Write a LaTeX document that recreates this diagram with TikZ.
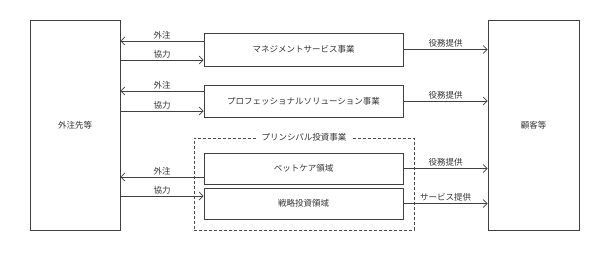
\documentclass[tikz,border=0pt]{standalone}
\usepackage{fontspec}
\newfontfamily\jpfont{Noto Sans CJK JP}
\usepackage{tikz}
\usetikzlibrary{arrows.meta,positioning,calc}

\begin{document}
\begin{tikzpicture}[x=1pt, y=-1pt,
  box/.style={rectangle, draw=black!75, line width=0.7pt, inner sep=0pt,
    align=center, font=\jpfont\fontsize{8.5}{10}\selectfont, text=black!80},
  unit/.style={box, minimum width=199pt},
  group/.style={rectangle, draw=black!70, densely dashed, line width=0.5pt,
    minimum width=220pt, minimum height=92pt},
  arr/.style={-{Straight Barb[length=4pt,width=8pt]}, line width=0.7pt, black!75},
  lbl/.style={font=\jpfont\fontsize{8.5}{10}\selectfont, text=black!80, inner sep=1.5pt}
]
\useasboundingbox (0,0) rectangle (602,252);

% Outer parties
\node[box, minimum width=90pt, minimum height=210pt] (gaichu) at (75,125) {外注先等};
\node[box, minimum width=91pt, minimum height=210pt] (kokyaku) at (533.5,125) {顧客等};

% Business units
\node[unit, minimum height=33pt] (mgmt) at (303.5,49.5) {マネジメントサービス事業};
\node[unit, minimum height=32pt] (prof) at (303.5,101) {プロフェッショナルソリューション事業};

% Principal investment
\node[group] (pi) at (304,184) {};
\node[lbl, fill=white, inner xsep=6pt] (pititle) at (pi.north) {プリンシパル投資事業};
\node[unit, minimum height=31pt] (pet) at (303.5,168.5) {ペットケア領域};
\node[unit, minimum height=31pt] (strat) at (303.5,203.5) {戦略投資領域};

% Edges to the left
\draw[arr] ([yshift=8.5pt]mgmt.west) -- node[lbl, above]{外注} ([yshift=8.5pt]mgmt.west -| gaichu.east);
\draw[arr] ([yshift=-10.5pt]mgmt.west -| gaichu.east) -- node[lbl, above]{協力} ([yshift=-10.5pt]mgmt.west);
\draw[arr] ([yshift=10pt]prof.west) -- node[lbl, above]{外注} ([yshift=10pt]prof.west -| gaichu.east);
\draw[arr] ([yshift=-10pt]prof.west -| gaichu.east) -- node[lbl, above]{協力} ([yshift=-10pt]prof.west);
\draw[arr] ([yshift=-8.5pt]pet.west) -- node[lbl, above]{外注} ([yshift=-8.5pt]pet.west -| gaichu.east);
\draw[arr] ([yshift=7.5pt]strat.west -| gaichu.east) -- node[lbl, above]{協力} ([yshift=7.5pt]strat.west);

% Edges to the right
\draw[arr] (mgmt.east) -- node[lbl, above]{役務提供} (mgmt.east -| kokyaku.west);
\draw[arr] (prof.east) -- node[lbl, above]{役務提供} (prof.east -| kokyaku.west);
\draw[arr] (pet.east) -- node[lbl, above]{役務提供} (pet.east -| kokyaku.west);
\draw[arr] (strat.east) -- node[lbl, above]{サービス提供} (strat.east -| kokyaku.west);

\end{tikzpicture}
\end{document}
